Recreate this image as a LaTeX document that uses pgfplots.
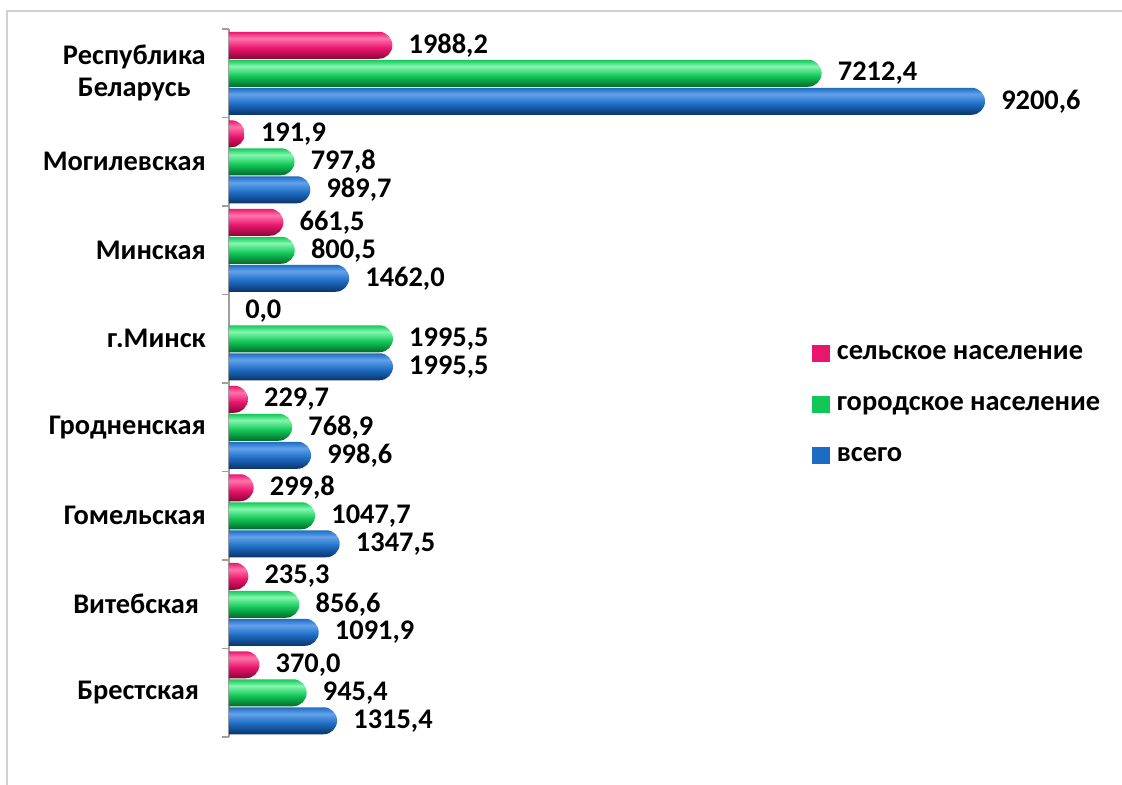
\documentclass[border=0pt]{standalone}
\usepackage{fontspec}
\setmainfont{Carlito}
\usepackage{pgfplots}
\pgfplotsset{compat=1.18}

\definecolor{pinkL}{HTML}{FF74AC}
\definecolor{pinkM}{HTML}{EA156D}
\definecolor{pinkD}{HTML}{8A0634}
\definecolor{greenL}{HTML}{84F7AE}
\definecolor{greenM}{HTML}{12C758}
\definecolor{greenD}{HTML}{036A2A}
\definecolor{blueL}{HTML}{62A2EA}
\definecolor{blueM}{HTML}{1D6CC3}
\definecolor{blueD}{HTML}{0A336B}

% cylinder-like vertical shadings (path box maps to 25bp..75bp)
\pgfdeclareverticalshading{pinkbar}{100bp}{color(0bp)=(pinkD); color(25bp)=(pinkD); color(45bp)=(pinkM); color(63bp)=(pinkL); color(75bp)=(pinkM); color(100bp)=(pinkM)}
\pgfdeclareverticalshading{greenbar}{100bp}{color(0bp)=(greenD); color(25bp)=(greenD); color(45bp)=(greenM); color(63bp)=(greenL); color(75bp)=(greenM); color(100bp)=(greenM)}
\pgfdeclareverticalshading{bluebar}{100bp}{color(0bp)=(blueD); color(25bp)=(blueD); color(45bp)=(blueM); color(63bp)=(blueL); color(75bp)=(blueM); color(100bp)=(blueM)}

\pgfdeclareplotmark{void}{}

% bar drawn back from the data point to x=0, rounded at its right end
% #1 shading, #2 vertical offset in pt; 0.0616274 pt per unit = 653.25pt/10600
\newcommand{\cyl}[2]{%
  \pgfmathsetmacro\len{\xval*0.0616274}%
  \ifdim\len pt>0.5pt
    \shade[shading=#1, draw=none] (-\len pt,#2pt-10.125pt) -- (-10.125pt,#2pt-10.125pt)
      arc[start angle=-90,end angle=90,radius=10.125pt] -- (-\len pt,#2pt+10.125pt) -- cycle;
  \fi}

\newcommand{\lbl}{\bfseries\fontsize{21.3}{24}\selectfont}

% categories bottom to top: Брестская ... Республика Беларусь
\pgfplotstableread{
y  rural   urban   total
0  370.0   945.4   1315.4
1  235.3   856.6   1091.9
2  299.8   1047.7  1347.5
3  229.7   768.9   998.6
4  0.0     1995.5  1995.5
5  661.5   800.5   1462.0
6  191.9   797.8   989.7
7  1988.2  7212.4  9200.6
}\datatable

\begin{document}
\begin{tikzpicture}
\useasboundingbox (0pt,0pt) rectangle (841.5pt,-588.75pt);
\draw[gray!35, line width=1pt] (5.25pt,-588.75pt) -- (5.25pt,-8.25pt) -- (841.5pt,-8.25pt);
\begin{axis}[
  at={(171.75pt,-552.75pt)}, anchor=south west,
  scale only axis, width=653.25pt, height=531pt,
  xmin=0, xmax=10600, ymin=-0.5, ymax=7.5,
  axis x line=none,
  axis y line*=left,
  y axis line style={gray!75, line width=1.5pt},
  ytick={0,...,7},
  yticklabels={Брестская\hspace*{5pt}, Витебская\hspace*{5pt}, Гомельская, Гродненская, г.Минск, Минская, Могилевская, {Республика\\Беларусь}},
  yticklabel style={font=\lbl, align=center, inner sep=0pt},
  yticklabel shift=17.25pt,
  major tick length=0pt,
  minor ytick={-0.5,0.5,...,7.5},
  minor tick length=5.25pt,
  tick align=outside,
  minor tick style={gray!75, line width=1.2pt},
  clip=false,
  every node near coord/.append style={font=\lbl, anchor=west, inner sep=0pt, xshift=12pt, text=black},
  /pgf/number format/.cd, fixed, fixed zerofill, precision=1, use comma, 1000 sep={}, assume math mode=true,
  /pgfplots/.cd,
  legend style={at={(0.6693,0.557)}, anchor=north west, draw=none, fill=none, font=\lbl,
    row sep=22.25pt, inner sep=0pt, /tikz/every odd column/.append style={column sep=3pt}},
  legend cell align=left,
]
% bars
\addplot[scatter, only marks, mark=void,
  visualization depends on={\thisrow{rural} \as \xval},
  scatter/@pre marker code/.code={\cyl{pinkbar}{21}},
  scatter/@post marker code/.code={},
  legend image code/.code={\fill[pinkM, draw=none] (0pt,-6.6pt) rectangle (13.5pt,6.6pt);}]
  table[x=rural, y=y] {\datatable};
\addlegendentry{сельское население}
\addplot[scatter, only marks, mark=void,
  visualization depends on={\thisrow{urban} \as \xval},
  scatter/@pre marker code/.code={\cyl{greenbar}{0}},
  scatter/@post marker code/.code={},
  legend image code/.code={\fill[greenM, draw=none] (0pt,-6.6pt) rectangle (13.5pt,6.6pt);}]
  table[x=urban, y=y] {\datatable};
\addlegendentry{городское население}
\addplot[scatter, only marks, mark=void,
  visualization depends on={\thisrow{total} \as \xval},
  scatter/@pre marker code/.code={\cyl{bluebar}{-21}},
  scatter/@post marker code/.code={},
  legend image code/.code={\fill[blueM, draw=none] (0pt,-6.6pt) rectangle (13.5pt,6.6pt);}]
  table[x=total, y=y] {\datatable};
\addlegendentry{всего}
% value labels
\addplot[forget plot, only marks, mark=void, point meta=x, nodes near coords,
  every node near coord/.append style={yshift=21pt}]
  table[x=rural, y=y] {\datatable};
\addplot[forget plot, only marks, mark=void, point meta=x, nodes near coords]
  table[x=urban, y=y] {\datatable};
\addplot[forget plot, only marks, mark=void, point meta=x, nodes near coords,
  every node near coord/.append style={yshift=-21pt}]
  table[x=total, y=y] {\datatable};
\end{axis}
\end{tikzpicture}
\end{document}
